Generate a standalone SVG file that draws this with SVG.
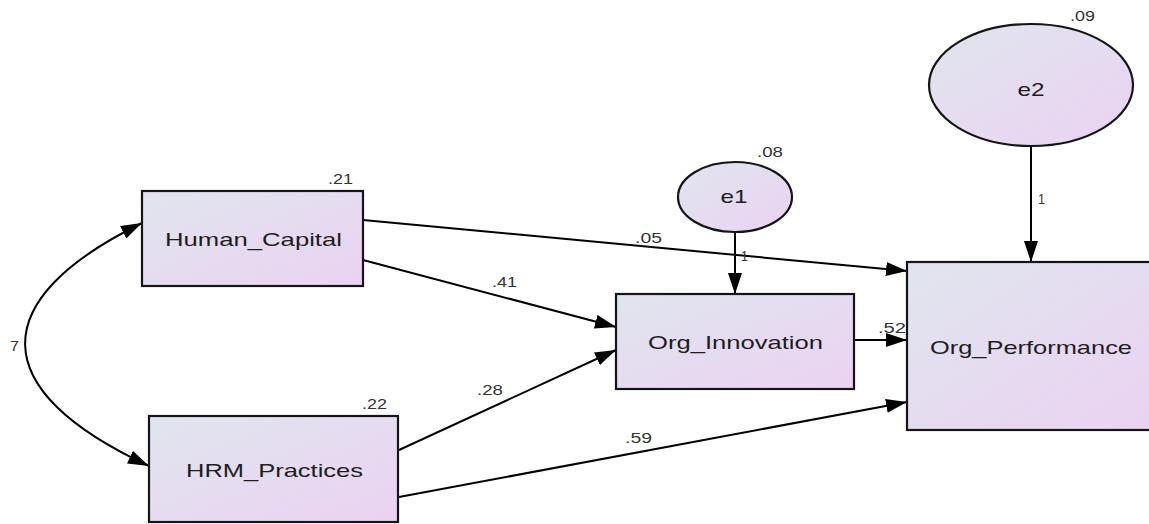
<svg xmlns="http://www.w3.org/2000/svg" width="1149" height="524" viewBox="0 0 1149 524">
<defs>
<linearGradient id="fill" x1="0" y1="0" x2="1" y2="1">
<stop offset="0" stop-color="#e0e5ee"/>
<stop offset="1" stop-color="#ebd2f2"/>
</linearGradient>
<marker id="arr" viewBox="0 0 21 14" refX="21" refY="7" markerWidth="21" markerHeight="14" markerUnits="userSpaceOnUse" orient="auto-start-reverse">
<path d="M0,0 L21,7 L0,14 z" fill="#000"/>
</marker>
<style>
.box{fill:url(#fill);stroke:#151515;stroke-width:2.2}
.lbl{font-family:"Liberation Sans",Arial,sans-serif;font-size:18.5px;fill:#1e1e1e;text-anchor:middle}
.num{font-family:"Liberation Sans",Arial,sans-serif;font-size:14px;fill:#333}
.con{fill:none;stroke:#000;stroke-width:2;marker-end:url(#arr)}
</style>
</defs>
<rect width="1149" height="524" fill="#fff"/>
<g id="connectors">
<path class="con" d="M142,223 C-15,300 -15,390 149,466" marker-start="url(#arr)"/>
<line class="con" x1="363" y1="220" x2="907" y2="271"/>
<line class="con" x1="363" y1="260" x2="616" y2="327"/>
<line class="con" x1="399" y1="450" x2="616" y2="350"/>
<line class="con" x1="399" y1="497" x2="907" y2="402"/>
<line class="con" x1="854" y1="340" x2="907" y2="340"/>
<line class="con" x1="735" y1="232" x2="735" y2="294"/>
<line class="con" x1="1031" y1="147" x2="1031" y2="262"/>
<text class="num" x="10" y="351" textLength="9" lengthAdjust="spacingAndGlyphs">7</text>
<text class="num" x="635" y="243" textLength="27" lengthAdjust="spacingAndGlyphs">.05</text>
<text class="num" x="492" y="287" textLength="25" lengthAdjust="spacingAndGlyphs">.41</text>
<text class="num" x="477" y="395" textLength="26" lengthAdjust="spacingAndGlyphs">.28</text>
<text class="num" x="625" y="443" textLength="27" lengthAdjust="spacingAndGlyphs">.59</text>
<text class="num" x="878" y="333" textLength="28" lengthAdjust="spacingAndGlyphs">.52</text>
<text class="num" x="741" y="261" textLength="7" lengthAdjust="spacingAndGlyphs">1</text>
<text class="num" x="1038" y="204" textLength="7" lengthAdjust="spacingAndGlyphs">1</text>
</g>
<g id="Human_Capital">
<rect class="box" x="142" y="191" width="221" height="95"/>
<text class="lbl" x="253.5" y="246" textLength="177" lengthAdjust="spacingAndGlyphs">Human_Capital</text>
<text class="num" x="328" y="184" textLength="25" lengthAdjust="spacingAndGlyphs">.21</text>
</g>
<g id="HRM_Practices">
<rect class="box" x="149" y="416" width="249" height="106"/>
<text class="lbl" x="274.5" y="477" textLength="177" lengthAdjust="spacingAndGlyphs">HRM_Practices</text>
<text class="num" x="362" y="409" textLength="25" lengthAdjust="spacingAndGlyphs">.22</text>
</g>
<g id="Org_Innovation">
<rect class="box" x="616" y="294" width="238" height="95"/>
<text class="lbl" x="735.5" y="349" textLength="175" lengthAdjust="spacingAndGlyphs">Org_Innovation</text>
</g>
<g id="Org_Performance">
<rect class="box" x="907" y="262" width="250" height="168"/>
<text class="lbl" x="1031" y="354" textLength="202" lengthAdjust="spacingAndGlyphs">Org_Performance</text>
</g>
<g id="e1">
<ellipse class="box" cx="735" cy="197" rx="57" ry="35"/>
<text class="lbl" x="734" y="203" textLength="27" lengthAdjust="spacingAndGlyphs">e1</text>
<text class="num" x="757" y="157" textLength="26" lengthAdjust="spacingAndGlyphs">.08</text>
</g>
<g id="e2">
<ellipse class="box" cx="1031" cy="85" rx="102" ry="61"/>
<text class="lbl" x="1031" y="96" textLength="27" lengthAdjust="spacingAndGlyphs">e2</text>
<text class="num" x="1070" y="21" textLength="25" lengthAdjust="spacingAndGlyphs">.09</text>
</g>
</svg>
